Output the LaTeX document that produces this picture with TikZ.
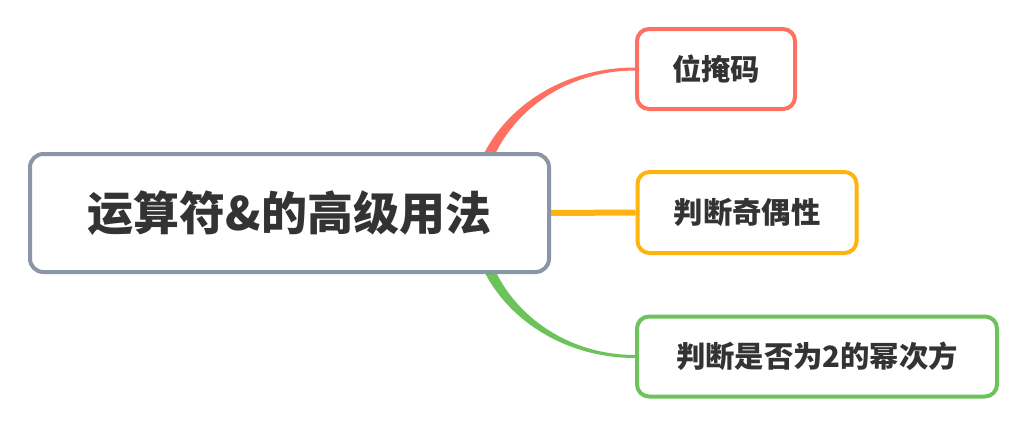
\documentclass[tikz,border=0pt]{standalone}
\usepackage{fontspec}
\newfontfamily\cjk{Noto Sans CJK SC}
\usetikzlibrary{calc,backgrounds}
\definecolor{cRed}{HTML}{FF7061}
\definecolor{cOra}{HTML}{FFB30F}
\definecolor{cGrn}{HTML}{6CC35A}
\definecolor{cGry}{HTML}{8A95A6}
\definecolor{cTxt}{HTML}{333333}
\tikzset{
  box/.style={draw, fill=white, rounded corners=9pt, line width=3pt, text=cTxt,
    font=\cjk\bfseries\fontsize{22}{26}\selectfont, inner sep=0pt, anchor=center},
  rootbox/.style={box, draw=cGry, rounded corners=10pt,
    font=\cjk\bfseries\fontsize{34.5}{40}\selectfont},
}
\begin{document}
\begin{tikzpicture}[x=0.75pt,y=-0.75pt]
\useasboundingbox (0,0) rectangle (1026,437);
% root and child boxes
\node[rootbox, minimum width=519*0.75pt, minimum height=118*0.75pt] (root) at (289.5,213) {运算符\&的高级用法\hspace{15pt}};
\node[box, draw=cRed, minimum width=158*0.75pt, minimum height=80*0.75pt] (b1) at (716,69) {位掩码};
\node[box, draw=cOra, minimum width=219*0.75pt, minimum height=81*0.75pt] (b2) at (747,212.5) {判断奇偶性};
\node[box, draw=cGrn, minimum width=360*0.75pt, minimum height=80*0.75pt] (b3) at (817,356.5) {判断是否为2的幂次方};
% connectors (tapered) behind the boxes
\begin{scope}[on background layer]
\fill[white] (0,0) rectangle (1026,437);
\coordinate (e1) at (b1.west);
\coordinate (e3) at (b3.west);
\fill[cRed] ($(e1)+(-165,143)$) .. controls ($(e1)+(-165,63)$) and ($(e1)+(-91,-1.5)$) .. ($(e1)+(0,-1.5)$)
  -- ($(e1)+(0,1.5)$) .. controls ($(e1)+(-84.5,1.5)$) and ($(e1)+(-153,64)$) .. ($(e1)+(-153,143)$) -- cycle;
\fill[cGrn] ($(e3)+(-165,-144)$) .. controls ($(e3)+(-165,-64)$) and ($(e3)+(-91,1.5)$) .. ($(e3)+(0,1.5)$)
  -- ($(e3)+(0,-1.5)$) .. controls ($(e3)+(-84.5,-1.5)$) and ($(e3)+(-153,-65)$) .. ($(e3)+(-153,-144)$) -- cycle;
\draw[cOra, line width=4.5pt] (root.east) -- (b2.west);
\end{scope}
\end{tikzpicture}
\end{document}
